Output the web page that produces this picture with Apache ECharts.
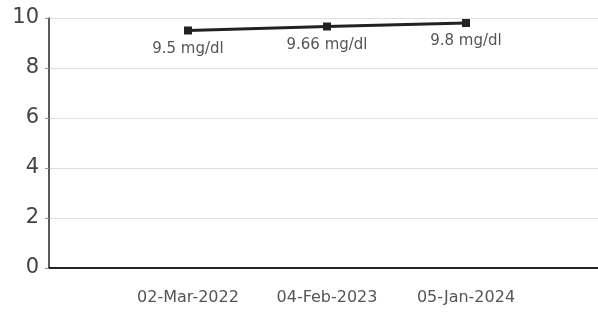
<html>
<head>
<meta charset="utf-8">
<script src="https://cdn.jsdelivr.net/npm/echarts@6/dist/echarts.min.js"></script>
<style>
  body { margin: 0; background: #fff; }
  #chart { width: 598px; height: 316px; }
</style>
</head>
<body>
<div id="chart"></div>
<script>
// dates with an empty slot on each side, so the line sits in the middle
var dates = ['', '02-Mar-2022', '04-Feb-2023', '05-Jan-2024', ''];
var values = ['-', 9.5, 9.66, 9.8, '-'];
var labels = ['', '9.5 mg/dl', '9.66 mg/dl', '9.8 mg/dl', ''];
var yTicks = [0, 2, 4, 6, 8, 10];

var font = 'DejaVu Sans, Arial';
var chart = echarts.init(document.getElementById('chart'));
chart.setOption({
  animation: false,
  grid: { left: 49, top: 18, width: 556, height: 250, outerBoundsMode: 'none' },
  xAxis: {
    type: 'category',
    data: dates,
    boundaryGap: false,
    axisLine: { lineStyle: { color: '#222', width: 2 } },
    axisTick: { show: false },
    axisLabel: { color: '#555', fontSize: 16, fontFamily: font, margin: 22 },
    splitLine: { show: false }
  },
  yAxis: {
    type: 'value',
    min: yTicks[0],
    max: yTicks[yTicks.length - 1],
    interval: 2,
    axisLine: { show: true, lineStyle: { color: '#222', width: 1.5 } },
    axisTick: { show: true, length: 4, lineStyle: { color: '#999' } },
    axisLabel: { color: '#444', fontSize: 21, fontFamily: font, margin: 10 },
    splitLine: { lineStyle: { color: '#ddd', width: 1 } }
  },
  series: [{
    type: 'line',
    data: values,
    symbol: 'rect',
    symbolSize: 8,
    lineStyle: { color: '#222', width: 3 },
    itemStyle: { color: '#222' },
    label: {
      show: true,
      position: 'bottom',
      distance: 7,
      color: '#555',
      fontSize: 15,
      fontFamily: font,
      formatter: function (p) { return labels[p.dataIndex]; }
    }
  }]
});
</script>
</body>
</html>
